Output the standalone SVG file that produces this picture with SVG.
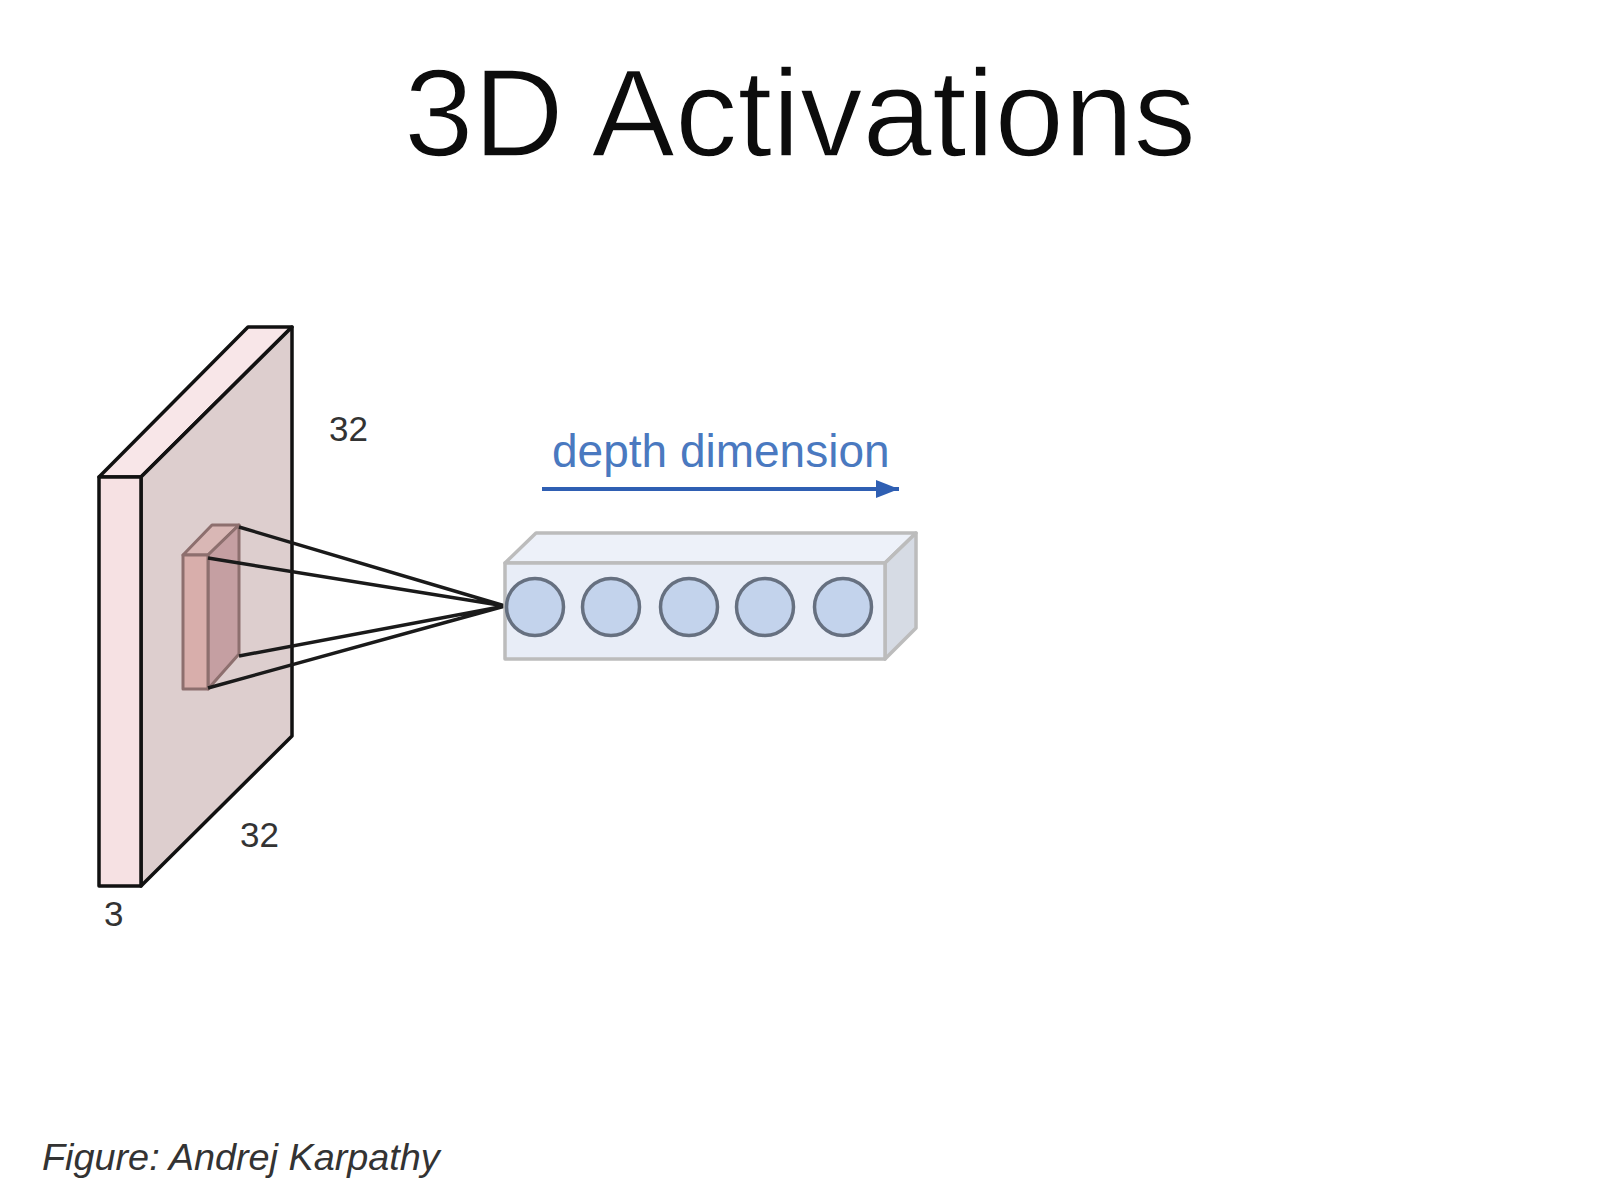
<svg xmlns="http://www.w3.org/2000/svg" width="1600" height="1200" viewBox="0 0 1600 1200">
<style>
text{font-family:"Liberation Sans",Arial,sans-serif}
.plate{stroke:#111;stroke-width:3.5;stroke-linejoin:round}
.cube{stroke:#8d6f6e;stroke-width:3;stroke-linejoin:round}
.box{stroke:#bcbcbc;stroke-width:3.5;stroke-linejoin:round}
.neuron{fill:#c3d3ec;stroke:#667080;stroke-width:3.5}
.dim{font-size:35px;fill:#333}
.wire{stroke:#1a1a1a;stroke-width:3.5;fill:none}
</style>
<defs>
<marker id="head" markerUnits="userSpaceOnUse" markerWidth="24" markerHeight="20" refX="23" refY="10" orient="auto"><path d="M0 1 L23 10 L0 19 Z" fill="#2f5fb3"/></marker>
</defs>
<rect width="1600" height="1200" fill="#fff"/>
<text id="title" x="800" y="156" text-anchor="middle" font-size="125" fill="#0c0c0c" stroke="#fff" stroke-width="1.6">3D Activations</text>
<g id="plate">
<polygon class="plate" points="99,477 248,327 292,327 141,477" fill="#f8e6e8"/>
<polygon class="plate" points="141,477 292,327 292,736 141,886" fill="#ddcece"/>
<rect class="plate" x="99" y="477" width="42" height="409" fill="#f6e1e3"/>
</g>
<g id="filter">
<polygon class="cube" points="183,555 212,525 239,525 208,555" fill="#d9b7b5"/>
<polygon class="cube" points="208,555 239,525 239,654 208,689" fill="#c59fa2"/>
<rect class="cube" x="183" y="555" width="25" height="134" fill="#d8aeab"/>
</g>
<g id="connectors">
<path class="wire" d="M239,527 L505,606 M208,558 L505,606 M239,656 L505,606 M208,688 L505,606"/>
<line x1="542" y1="489" x2="899" y2="489" stroke="#2f5fb3" stroke-width="4" marker-end="url(#head)"/>
</g>
<g id="column">
<polygon class="box" points="505,563 536,533 916,533 885,563" fill="#edf1f9"/>
<polygon class="box" points="885,563 916,533 916,628 885,659" fill="#d6dbe4"/>
<rect class="box" x="505" y="563" width="380" height="96" fill="#e8edf7"/>
<circle class="neuron" cx="535" cy="607" r="28.5"/>
<circle class="neuron" cx="611" cy="607" r="28.5"/>
<circle class="neuron" cx="689" cy="607" r="28.5"/>
<circle class="neuron" cx="765" cy="607" r="28.5"/>
<circle class="neuron" cx="843" cy="607" r="28.5"/>
</g>
<g id="labels">
<text class="dim" x="329" y="441">32</text>
<text class="dim" x="240" y="847">32</text>
<text class="dim" x="104" y="926">3</text>
<text x="552" y="467" font-size="46" fill="#4a79c0">depth dimension</text>
<text x="42" y="1170" font-size="37.8" font-style="italic" fill="#333">Figure: Andrej Karpathy</text>
</g>
</svg>
